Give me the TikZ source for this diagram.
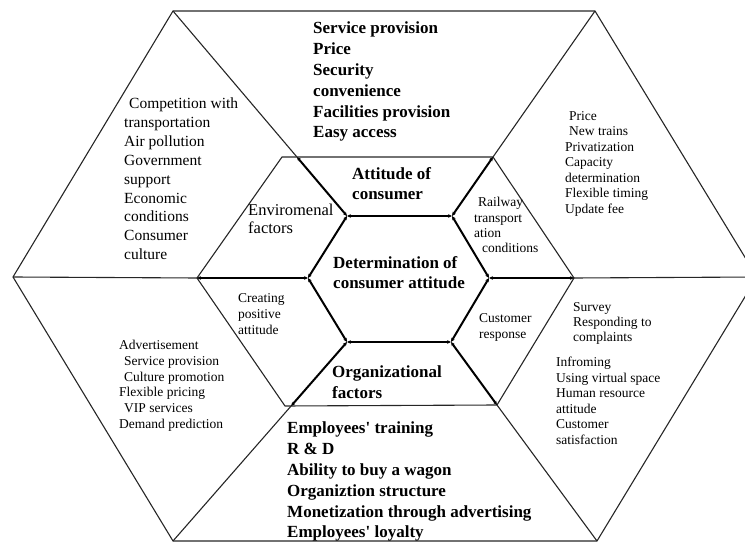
\documentclass[tikz,border=0pt]{standalone}
\usepackage{fontspec}
\setmainfont{Liberation Serif}
\usetikzlibrary{arrows.meta}

\begin{document}
\begin{tikzpicture}[x=1pt,y=-1pt,
        thinline/.style={line width=1.1pt,draw=black!85},
        link/.style={line width=2pt,draw=black,{Stealth[length=4pt,width=3.6pt]}-{Stealth[length=4pt,width=3.6pt]}},
        bigtxt/.style={anchor=north west,align=left,inner sep=0pt,font=\bfseries\fontsize{17}{20.8}\selectfont},
        midtxt/.style={anchor=north west,align=left,inner sep=0pt,font=\fontsize{15.5}{18.9}\selectfont},
        smalltxt/.style={anchor=north west,align=left,inner sep=0pt,font=\fontsize{13.5}{15.5}\selectfont}]
    \useasboundingbox (0,0) rectangle (745,545);
    \clip (0,0) rectangle (745,545);

    % outer ring
    \coordinate (oL) at (13,277);
    \coordinate (oTL) at (173,11);
    \coordinate (oTR) at (595,11);
    \coordinate (oR) at (757,277);
    \coordinate (oBR) at (597,541);
    \coordinate (oBL) at (173,541);
    % middle ring
    \coordinate (mL) at (197,278);
    \coordinate (mTL) at (282,157);
    \coordinate (mTR) at (493,157);
    \coordinate (mR) at (574,278);
    \coordinate (mBR) at (497,405);
    \coordinate (mBL) at (285,406);
    % centre
    \coordinate (cL) at (308,278);
    \coordinate (cTL) at (347,216);
    \coordinate (cTR) at (452,216);
    \coordinate (cR) at (489,278);
    \coordinate (cBR) at (451,342);
    \coordinate (cBL) at (347,342);

    \coordinate (sTL) at (intersection of oTL--cTL and mTL--mTR);
    \coordinate (sBL) at (intersection of oBL--cBL and mBL--mBR);

    \draw[thinline] (oL) -- (oTL) -- (oTR) -- (oR) -- (oBR) -- (oBL) -- cycle;
    \draw[thinline] (mL) -- (mTL) -- (mTR) -- (mR) -- (mBR) -- (mBL) -- cycle;

    \draw[thinline] (oTL) -- (sTL);
    \draw[thinline] (oTR) -- (mTR);
    \draw[thinline] (oBL) -- (sBL);
    \draw[thinline] (oBR) -- (mBR);
    \draw[thinline] (oL) -- (mL);
    \draw[thinline] (mR) -- (oR);

    \draw[link] (sTL) -- (cTL);
    \draw[link] (mTR) -- (cTR);
    \draw[link] (sBL) -- (cBL);
    \draw[link] (mBR) -- (cBR);
    \draw[link] (mL) -- (cL);
    \draw[link] (cR) -- (mR);

    \draw[link] (cL) -- (cTL);
    \draw[link] (cTL) -- (cTR);
    \draw[link] (cTR) -- (cR);
    \draw[link] (cR) -- (cBR);
    \draw[link] (cBR) -- (cBL);
    \draw[link] (cBL) -- (cL);

    % texts
    \node[bigtxt] (service) at (313,22) {Service provision\\Price\\Security\\convenience\\Facilities provision\\Easy access};
    \node[bigtxt] (staff) at (287,422) {Employees\textquotesingle{} training\\R \& D\\Ability to buy a wagon\\Organiztion structure\\Monetization through advertising\\Employees\textquotesingle{} loyalty};
    \node[bigtxt] (attitude) at (352,167) {Attitude of\\consumer};
    \node[bigtxt] (determ) at (333,256) {Determination of\\consumer attitude};
    \node[bigtxt] (organ) at (332,366) {Organizational\\factors};

    \node[midtxt] (compet) at (124,97.6) {\hspace*{5pt}Competition with\\transportation\\Air pollution\\Government\\support\\Economic\\conditions\\Consumer\\culture};
    \node[midtxt,font=\fontsize{16.5}{18}\selectfont] (envir) at (248,204.2) {Enviromenal\\factors};

    \node[smalltxt] (price) at (565,111.2) {\hspace*{4pt}Price\\\hspace*{4pt}New trains\\Privatization\\Capacity\\determination\\Flexible timing\\Update fee};
    \node[smalltxt,font=\fontsize{13.5}{15.4}\selectfont] (railway) at (474,197.2) {\hspace*{4pt}Railway\\transport\\ation\\\hspace*{8pt}conditions};
    \node[smalltxt,font=\fontsize{13.5}{16}\selectfont] (creating) at (238,293.2) {Creating\\positive\\attitude};
    \node[smalltxt,font=\fontsize{13.5}{16}\selectfont] (response) at (479,313.2) {Customer\\response};
    \node[smalltxt,font=\fontsize{13.5}{15.7}\selectfont] (advert) at (119,340.2) {Advertisement\\\hspace*{5pt}Service provision\\\hspace*{5pt}Culture promotion\\Flexible pricing\\\hspace*{5pt}VIP services\\Demand prediction};
    \node[smalltxt,font=\fontsize{13.5}{15.3}\selectfont] (survey) at (573,302.2) {Survey\\Responding to\\complaints};
    \node[smalltxt] (inform) at (556,356.8) {Infroming\\Using virtual space\\Human resource\\attitude\\Customer\\satisfaction};
\end{tikzpicture}
\end{document}
